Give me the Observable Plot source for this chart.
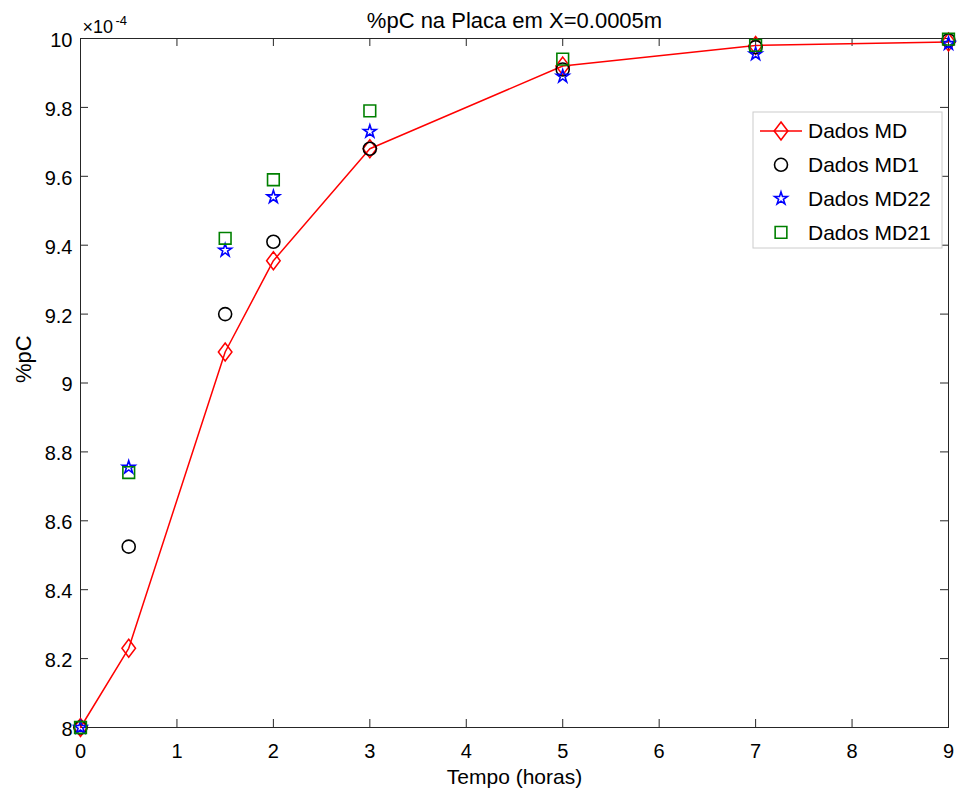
<!DOCTYPE html>
<html>
<head>
<meta charset="utf-8">
<script src="https://cdn.jsdelivr.net/npm/d3@7"></script>
<script src="https://cdn.jsdelivr.net/npm/@observablehq/plot@0.6"></script>
<style>
  html, body { margin: 0; padding: 0; background: #fff; }
  #chart { position: relative; width: 963px; height: 793px; }
  svg { font-family: "Liberation Sans", Arial, Helvetica, sans-serif; }
</style>
</head>
<body>
<div id="chart"></div>
<script>
// Values in units of 10^-4 (as shown on the axis, "×10⁻⁴")
const tempo = [0, 0.5, 1.5, 2, 3, 5, 7, 9];
const dadosMD   = [8.00, 8.23, 9.09, 9.355, 9.68, 9.92, 9.98, 9.99];
const dadosMD1  = [8.00, 8.525, 9.20, 9.41, 9.68, 9.91, 9.975, 9.995];
const dadosMD22 = [8.00, 8.755, 9.385, 9.54, 9.73, 9.89, 9.955, 9.985];
const dadosMD21 = [8.00, 8.74, 9.42, 9.59, 9.79, 9.94, 9.98, 9.998];
const xTicks = [0, 1, 2, 3, 4, 5, 6, 7, 8, 9];
const yTicks = [8, 8.2, 8.4, 8.6, 8.8, 9, 9.2, 9.4, 9.6, 9.8, 10];
const seriesNames = ["Dados MD", "Dados MD1", "Dados MD22", "Dados MD21"];

const toRows = (vals) => tempo.map((t, i) => ({t, v: vals[i]}));
const md = toRows(dadosMD), md1 = toRows(dadosMD1), md22 = toRows(dadosMD22), md21 = toRows(dadosMD21);

// MATLAB-like diamond (slightly taller than wide)
const diamondSym = {
  draw(ctx, size) {
    const R = Math.sqrt(size / Math.PI);
    const h = 1.12 * R, w = 0.85 * R;
    ctx.moveTo(0, -h); ctx.lineTo(w, 0); ctx.lineTo(0, h); ctx.lineTo(-w, 0); ctx.closePath();
  }
};

const W = 963, H = 793, mL = 80, mR = 15, mT = 38, mB = 66;
const plotW = W - mL - mR, plotH = H - mT - mB, tickLen = 8;
const axisCol = "#262626";
const fmt = d => String(+d.toFixed(1));

const chart = Plot.plot({
  width: W,
  height: H,
  marginLeft: mL,
  marginRight: mR,
  marginTop: mT,
  marginBottom: mB,
  style: {fontFamily: '"Liberation Sans", Arial, sans-serif', fontSize: "20px", color: "#000", background: "#fff"},
  x: {domain: [0, 9]},
  y: {domain: [8, 10]},
  marks: [
    // inward ticks on all four sides
    Plot.ruleX(xTicks, {x: d => d, insetTop: plotH - tickLen, stroke: axisCol, strokeWidth: 1}),
    Plot.ruleX(xTicks, {x: d => d, insetBottom: plotH - tickLen, stroke: axisCol, strokeWidth: 1}),
    Plot.ruleY(yTicks, {y: d => d, insetRight: plotW - tickLen, stroke: axisCol, strokeWidth: 1}),
    Plot.ruleY(yTicks, {y: d => d, insetLeft: plotW - tickLen, stroke: axisCol, strokeWidth: 1}),
    Plot.frame({stroke: axisCol, strokeWidth: 1}),
    Plot.axisX({anchor: "bottom", ticks: xTicks, tickSize: 0, tickPadding: 16, tickFormat: fmt, fill: "#000", label: null, fontSize: 20}),
    Plot.axisY({anchor: "left", ticks: yTicks, tickSize: 0, tickPadding: 8, tickFormat: fmt, fill: "#000", label: null, fontSize: 20, dy: 2}),
    Plot.line(md, {x: "t", y: "v", stroke: "#ff0000", strokeWidth: 1.5}),
    Plot.dot(md, {x: "t", y: "v", symbol: diamondSym, r: 8, stroke: "#ff0000", fill: "none", strokeWidth: 1.5}),
    Plot.dot(md1, {x: "t", y: "v", symbol: "circle", r: 6.5, stroke: "#000000", fill: "none", strokeWidth: 1.6}),
    Plot.dot(md22, {x: "t", y: "v", symbol: "star", r: 4, stroke: "#0000ff", fill: "none", strokeWidth: 1.6}),
    Plot.dot(md21, {x: "t", y: "v", symbol: "square", r: 6.6, stroke: "#008000", fill: "none", strokeWidth: 1.6}),
    Plot.text(["×10"], {frameAnchor: "top-left", lineAnchor: "middle", dx: 2, dy: -11, fontSize: 18, textAnchor: "start", fill: "#000"}),
    Plot.text(["-4"], {frameAnchor: "top-left", lineAnchor: "middle", dx: 35, dy: -18, fontSize: 13, textAnchor: "start", fill: "#000"}),
    Plot.text(["%pC na Placa em X=0.0005m"], {frameAnchor: "top", lineAnchor: "middle", dy: -17.5, fontSize: 22, fill: "#000"}),
    Plot.text(["Tempo (horas)"], {frameAnchor: "bottom", lineAnchor: "middle", dy: 50, fontSize: 21, fill: "#000"}),
    Plot.text(["%pC"], {frameAnchor: "left", lineAnchor: "middle", dx: -57, rotate: -90, fontSize: 22, fill: "#000"})
  ]
});

document.getElementById("chart").appendChild(chart);

// Legend (drawn into the same SVG)
const svg = d3.select(chart);
const lg = svg.append("g").attr("transform", "translate(753,112)").attr("text-anchor", "start");
lg.append("rect").attr("width", 189).attr("height", 136).attr("fill", "#fff").attr("stroke", "#cccccc").attr("stroke-width", 1);
const legendItems = [
  {name: seriesNames[0], sym: diamondSym, r: 8, color: "#ff0000", line: true},
  {name: seriesNames[1], sym: d3.symbolCircle, r: 6.5, color: "#000000"},
  {name: seriesNames[2], sym: d3.symbolStar, r: 4, color: "#0000ff"},
  {name: seriesNames[3], sym: d3.symbolSquare, r: 6.6, color: "#008000"}
];
legendItems.forEach((it, i) => {
  const cy = 19 + i * 33.8;
  const g = lg.append("g").attr("transform", `translate(0,${cy})`);
  if (it.line) g.append("line").attr("x1", 7).attr("x2", 49).attr("stroke", it.color).attr("stroke-width", 1.5);
  g.append("path").attr("transform", "translate(28,0)")
    .attr("d", d3.symbol().type(it.sym).size(Math.PI * it.r * it.r)())
    .attr("fill", "none").attr("stroke", it.color).attr("stroke-width", 1.6);
  g.append("text").attr("x", 55).attr("dy", "0.35em").attr("text-anchor", "start")
    .attr("font-size", 21).attr("fill", "#000").text(it.name);
});
</script>
</body>
</html>
